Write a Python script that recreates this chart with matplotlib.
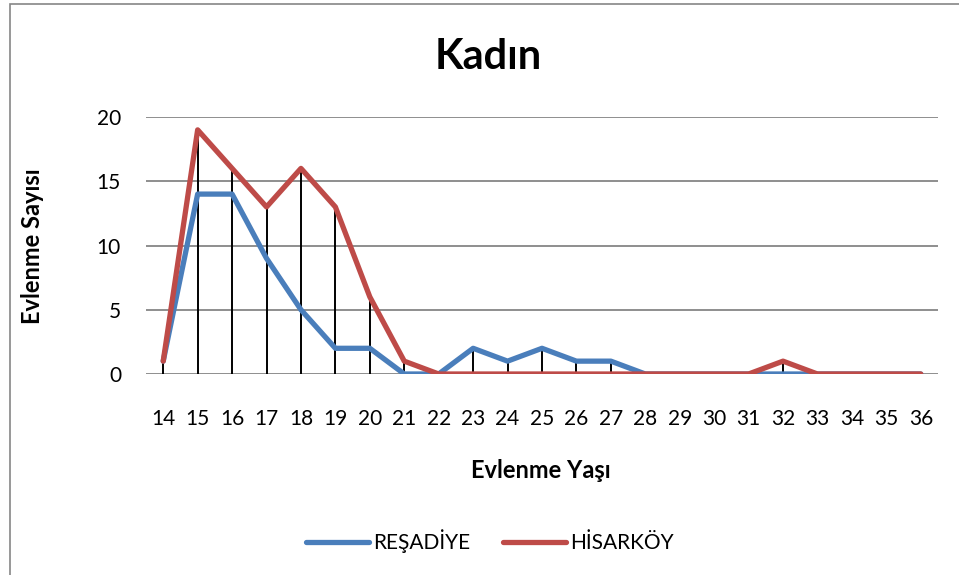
import matplotlib
matplotlib.use("Agg")
import matplotlib.pyplot as plt
from matplotlib.patches import Rectangle
import numpy as np

ages = [str(a) for a in range(14, 37)]
resadiye = [1, 14, 14, 9, 5, 2, 2, 0, 0, 2, 1, 2, 1, 1, 0, 0, 0, 0, 0, 0, 0, 0, 0]
hisarkoy = [1, 19, 16, 13, 16, 13, 6, 1, 0, 0, 0, 0, 0, 0, 0, 0, 0, 0, 1, 0, 0, 0, 0]
yticks = [0, 5, 10, 15, 20]

plt.rcParams['font.family'] = ['Lato', 'DejaVu Sans']

W, H = 959, 575
fig = plt.figure(figsize=(9.59, 5.75), dpi=100)
ax = fig.add_axes([146/W, 1-374/H, (938-146)/W, (374-117)/H])
ax.set_ylim(0, 20)
x = np.arange(len(ages))
ax.set_xlim(-0.5, len(ages) - 0.5)

for yv in yticks:
    ax.axhline(yv, color='#868686', lw=1.3, zorder=0)

tops = np.maximum(resadiye, hisarkoy)
ax.vlines(x, 0, tops, color='black', lw=1.4, zorder=1)

ax.plot(x, resadiye, color='#4a7ebb', lw=3.8, label='REŞADİYE', zorder=2,
        solid_capstyle='round', solid_joinstyle='round')
ax.plot(x, hisarkoy, color='#be4b48', lw=3.8, label='HİSARKÖY', zorder=3,
        solid_capstyle='round', solid_joinstyle='round')

for s in ax.spines.values():
    s.set_visible(False)
ax.set_yticks(yticks)
ax.set_yticklabels([str(v) for v in yticks], fontsize=15)
ax.set_xticks(x)
ax.set_xticklabels(ages, fontsize=15)
ax.tick_params(axis='both', length=0)
ax.tick_params(axis='x', pad=25)
ax.tick_params(axis='y', pad=18)

fig.text(33/W, 1-246/H, 'Evlenme Sayısı', rotation=90, ha='center', va='center',
         fontsize=17, fontweight='bold')
fig.text(541/W, 1-471/H, 'Evlenme Yaşı', ha='center', va='center',
         fontsize=17, fontweight='bold')

fig.text(488/W, 1-57/H, 'Kadın', ha='center', va='center', fontsize=30, fontweight='bold')

leg = fig.legend(loc='center', bbox_to_anchor=(490/W, 1-541/H), ncol=2, frameon=False,
                 fontsize=15, handlelength=3.0, handletextpad=0.2, columnspacing=1.6)

fig.patches.append(Rectangle((10/W, -0.01), 1.0, 1-4/H + 0.01, transform=fig.transFigure,
                             fill=False, edgecolor='#868686', lw=1.2))

fig.savefig('out.png', dpi=100)
